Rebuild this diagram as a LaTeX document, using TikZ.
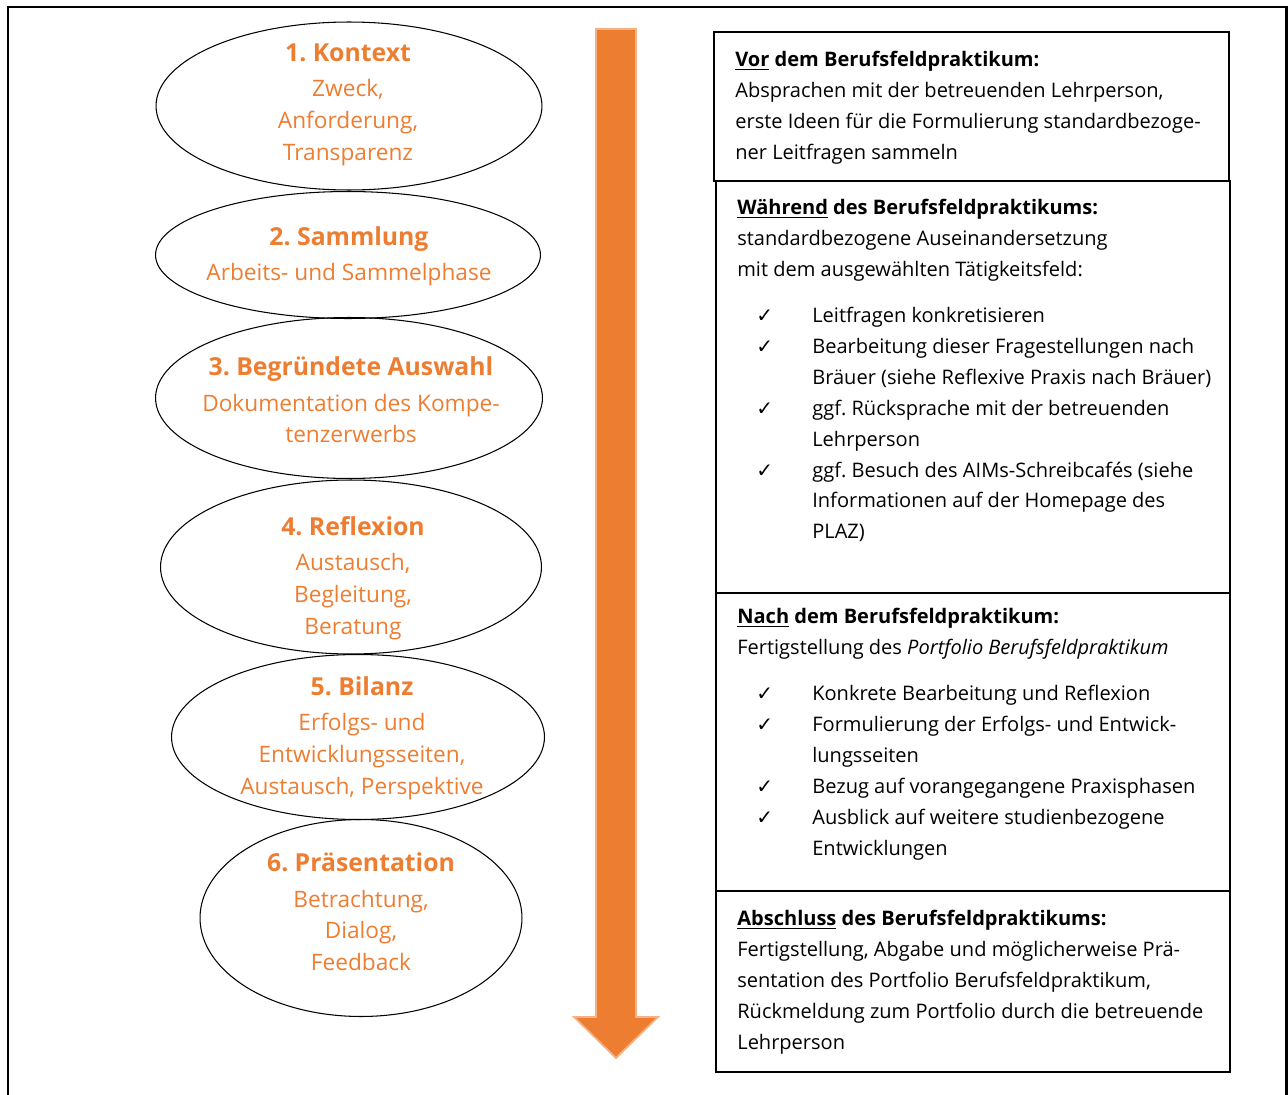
\documentclass[tikz,border=0pt]{standalone}
\usepackage{fontspec}
\setmainfont{Open Sans}
\newfontfamily\symfont{DejaVu Sans}
\frenchspacing
\definecolor{accent}{HTML}{ED7D31}
\definecolor{accentlight}{HTML}{F4B183}
\usetikzlibrary{shapes.geometric,positioning}
\newcommand{\chk}{\makebox[1.5cm][l]{\hspace*{0.38cm}{\symfont ✓}}}
\newcommand{\ind}{\hspace*{1.5cm}}
\newcommand{\phasehead}[1]{{\fontsize{14.1}{20.4}\bfseries #1}}
\begin{document}
\frenchspacing
\begin{tikzpicture}[x=0.02cm,y=-0.02cm,
  phase/.style={draw,ellipse,line width=0.6pt,inner sep=0pt},
  phasetext/.style={align=center,text=accent,inner sep=0pt,font=\fontsize{12.9}{18.1}\selectfont},
  stage/.style={draw,line width=1.1pt},
  stagetext/.style={anchor=north west,align=left,inner sep=0pt,font=\fontsize{11.4}{17.6}\selectfont}]
\useasboundingbox (0,0) rectangle (1288,1095);
% frame
\draw[line width=1.7pt] (8,1110) -- (8,7) -- (1286,7) -- (1286,1110);

% phases
\node[phase,minimum width=7.72cm,minimum height=3.36cm] (e1) at (349,106) {};
\node[phase,minimum width=7.70cm,minimum height=2.54cm] (e2) at (348,255) {};
\node[phase,minimum width=7.74cm,minimum height=3.22cm] (e3) at (349,398) {};
\node[phase,minimum width=7.62cm,minimum height=3.48cm] (e4) at (351,567) {};
\node[phase,minimum width=7.46cm,minimum height=3.30cm] (e5) at (358,737) {};
\node[phase,minimum width=6.44cm,minimum height=3.94cm] (e6) at (361,918) {};

\node[phasetext] (t1) at (348,105) {\phasehead{1. Kontext}\\[2pt] Zweck,\\ Anforderung,\\ Transparenz};
\node[phasetext] (t2) at (349,256) {\phasehead{2. Sammlung}\\[2pt] Arbeits- und Sammelphase};
\node[phasetext] (t3) at (351,400) {\phasehead{3. Begründete Auswahl}\\[2pt] Dokumentation des Kompe-\\ tenzerwerbs};
\node[phasetext] (t4) at (353,578) {\phasehead{4. Reflexion}\\[2pt] Austausch,\\ Begleitung,\\ Beratung};
\node[phasetext] (t5) at (362,738) {\phasehead{5. Bilanz}\\[2pt] Erfolgs- und\\ Entwicklungsseiten,\\ Austausch, Perspektive};
\node[phasetext] (t6) at (361,912) {\phasehead{6. Präsentation}\\[2pt] Betrachtung,\\ Dialog,\\ Feedback};

% time arrow
\draw[fill=accent,draw=accentlight,line width=1pt]
  (596,29) -- (636,29) -- (636,1017) -- (658,1017) -- (616,1058) -- (574,1017) -- (596,1017) -- cycle;

% stages
\draw[stage] (714,32) rectangle (1229,181);
\draw[stage] (716,181) rectangle (1230,593);
\draw[stage] (716,593) rectangle (1230,891);
\draw[stage] (716,891) rectangle (1230,1072);

\node[stagetext] (s1) at (735,51) {\textbf{\underline{Vor} dem Berufsfeldpraktikum:}\\
Absprachen mit der betreuenden Lehrperson,\\
erste Ideen für die Formulierung standardbezoge-\\
ner Leitfragen sammeln};
\node[stagetext] (s2) at (737,199) {\textbf{\underline{Während} des Berufsfeldpraktikums:}\\
standardbezogene Auseinandersetzung\\
mit dem ausgewählten Tätigkeitsfeld:\\[0.3cm]
\chk Leitfragen konkretisieren\\
\chk Bearbeitung dieser Fragestellungen nach\\
\ind Bräuer (siehe Reflexive Praxis nach Bräuer)\\
\chk ggf. Rücksprache mit der betreuenden\\
\ind Lehrperson\\
\chk ggf. Besuch des AIMs-Schreibcafés (siehe\\
\ind Informationen auf der Homepage des\\
\ind PLAZ)};
\node[stagetext] (s3) at (737,608) {\textbf{\underline{Nach} dem Berufsfeldpraktikum:}\\
Fertigstellung des \textit{Portfolio Berufsfeldpraktikum}\\[0.3cm]
\chk Konkrete Bearbeitung und Reflexion\\
\chk Formulierung der Erfolgs- und Entwick-\\
\ind lungsseiten\\
\chk Bezug auf vorangegangene Praxisphasen\\
\chk Ausblick auf weitere studienbezogene\\
\ind Entwicklungen};
\node[stagetext] (s4) at (737,910) {\textbf{\underline{Abschluss} des Berufsfeldpraktikums:}\\
Fertigstellung, Abgabe und möglicherweise Prä-\\
sentation des Portfolio Berufsfeldpraktikum,\\
Rückmeldung zum Portfolio durch die betreuende\\
Lehrperson};
\end{tikzpicture}
\end{document}
